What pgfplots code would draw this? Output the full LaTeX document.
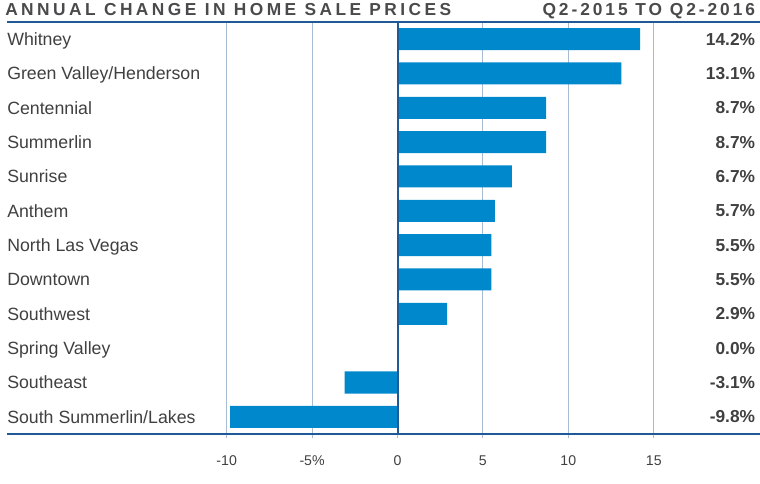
\documentclass[border=0pt]{standalone}
\usepackage{pgfplots}
\pgfplotsset{compat=1.18}
\usepackage{fontspec}
\setmainfont{Liberation Sans}
\newfontfamily\titlefont[LetterSpace=20]{Liberation Sans}
\newfontfamily\subtitlefont[LetterSpace=17]{Liberation Sans}
\definecolor{barblue}{HTML}{0088CC}
\definecolor{lineblue}{HTML}{1F5A96}
\definecolor{gridblue}{HTML}{A7BCD3}
\definecolor{txt}{HTML}{404040}
\definecolor{titlegray}{HTML}{4A4A4C}

\begin{document}
\begin{tikzpicture}
\path[use as bounding box] (0,-37.5pt) rectangle (570pt,325.5pt);
\begin{axis}[
    at={(5.25pt,0pt)}, anchor=south west,
    scale only axis, width=564.75pt, height=309pt,
    xbar, bar width=16.5pt,
    xmin=-22.86, xmax=21.22, ymin=-0.5, ymax=11.5, y dir=reverse,
    separate axis lines,
    x axis line style={draw=lineblue, line width=1.5pt},
    y axis line style={draw=none},
    xmajorgrids, grid style={draw=gridblue, line width=0.75pt},
    xtick={-10,-5,0,5,10,15},
    xticklabels={-10,-5\%,0,5,10,15},
    xtick pos=bottom, tick align=outside, major tick length=3pt,
    xtick style={draw=gridblue, line width=0.75pt},
    xticklabel style={font=\fontsize{10.6}{12}\selectfont, text=txt, yshift=-10pt},
    ytick={0,...,11},
    ytick style={draw=none},
    yticklabels={Whitney, Green Valley/Henderson, Centennial, Summerlin, Sunrise, Anthem, North Las Vegas, Downtown, Southwest, Spring Valley, Southeast, South Summerlin/Lakes},
    yticklabel style={anchor=base west, inner sep=0pt, xshift=3pt, yshift=-4.7pt, font=\fontsize{13.3}{15}\selectfont, text=txt},
]
\addplot[fill=barblue, draw=none] coordinates {
    (14.2,0) (13.1,1) (8.7,2) (8.7,3) (6.7,4) (5.7,5)
    (5.5,6) (5.5,7) (2.9,8) (0,9) (-3.1,10) (-9.8,11)
};
\draw[lineblue, line width=1.5pt] (rel axis cs:0,1) -- (rel axis cs:1,1);
\draw[lineblue, line width=1.5pt] ([yshift=-3pt]axis cs:0,11.5) -- (axis cs:0,-0.5);
\end{axis}
\begin{axis}[
    at={(5.25pt,0pt)}, anchor=south west,
    scale only axis, width=564.75pt, height=309pt,
    xmin=-22.86, xmax=21.22, ymin=-0.5, ymax=11.5, y dir=reverse,
    axis line style={draw=none},
    xtick=\empty,
    ytick={0,...,11},
    ytick style={draw=none},
    yticklabel pos=right,
    yticklabels={14.2\%, 13.1\%, 8.7\%, 8.7\%, 6.7\%, 5.7\%, 5.5\%, 5.5\%, 2.9\%, 0.0\%, -3.1\%, -9.8\%},
    yticklabel style={anchor=base east, inner sep=0pt, xshift=-3.5pt, yshift=-4.6pt, font=\bfseries\fontsize{13}{15}\selectfont, text=txt},
]
\addplot[draw=none] coordinates {(0,0)};
\end{axis}
\node[anchor=base west, inner sep=0pt, text=titlegray, font=\titlefont\bfseries\fontsize{13}{15}\selectfont] at (3.75pt,314pt) {ANNUAL CHANGE IN HOME SALE PRICES};
\node[anchor=base east, inner sep=0pt, text=titlegray, font=\subtitlefont\bfseries\fontsize{13}{15}\selectfont] at (566.5pt,314pt) {Q2-2015 TO Q2-2016};
\end{tikzpicture}
\end{document}
